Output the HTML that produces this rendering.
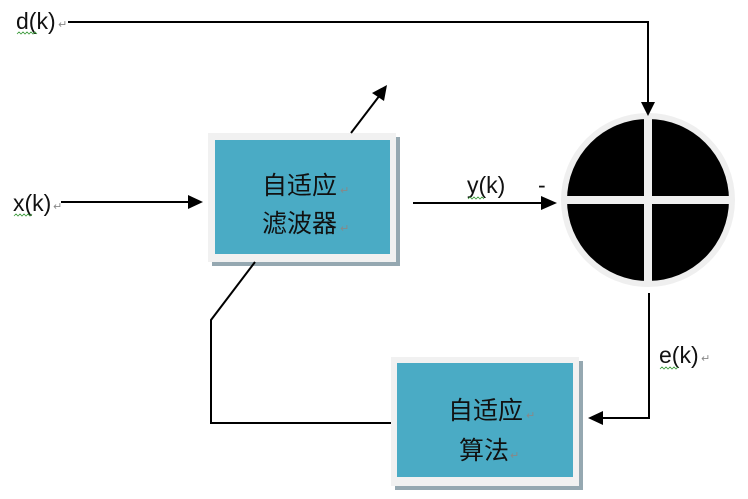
<!DOCTYPE html>
<html>
<head>
<meta charset="utf-8">
<style>
  html, body { margin: 0; padding: 0; background: #ffffff; }
  body { width: 748px; height: 499px; overflow: hidden; }
  svg { display: block; }
  .lat { font-family: "Liberation Sans", Arial, sans-serif; font-size: 23px; fill: #111; }
  .cjk { font-family: "Liberation Sans", "Noto Sans CJK SC", sans-serif; font-size: 25px; fill: #111; }
  .ret { font-family: "DejaVu Sans", "Liberation Sans", sans-serif; font-size: 11px; fill: #888; }
</style>
</head>
<body>
<svg width="748" height="499" viewBox="0 0 748 499" xmlns="http://www.w3.org/2000/svg">
  <!-- Box 1: adaptive filter -->
  <rect x="212" y="137" width="188" height="129" fill="#95a8b1"/>
  <rect x="208" y="133" width="188" height="129" fill="#f1f1f1"/>
  <rect x="215" y="140" width="175" height="114" fill="#4aabc5"/>
  <text class="cjk" x="262" y="194">自适应</text>
  <text class="ret" x="340" y="194">↵</text>
  <text class="cjk" x="262" y="232">滤波器</text>
  <text class="ret" x="340" y="232">↵</text>

  <!-- Box 2: adaptive algorithm -->
  <rect x="395" y="361" width="188" height="129" fill="#95a8b1"/>
  <rect x="391" y="357" width="188" height="129" fill="#f1f1f1"/>
  <rect x="397" y="363" width="176" height="114" fill="#4aabc5"/>
  <text class="cjk" x="448" y="419">自适应</text>
  <text class="ret" x="526" y="419">↵</text>
  <text class="cjk" x="459" y="459">算法</text>
  <text class="ret" x="510" y="459">↵</text>

  <!-- Summing junction -->
  <circle cx="648" cy="200" r="87" fill="#efefef"/>
  <circle cx="648" cy="200" r="81" fill="#000000"/>
  <rect x="644" y="115" width="8" height="170" fill="#efefef"/>
  <rect x="563" y="196" width="170" height="8" fill="#efefef"/>

  <!-- d(k) line -->
  <text class="lat" x="16" y="29">d(k)</text>
  <text class="ret" x="58" y="28">↵</text>
  <polyline points="17,34 19,32 21,34 23,32 25,34 27,32 29,34 31,32 33,34 35,32 37,34" fill="none" stroke="#3a9a3a" stroke-width="0.8"/>
  <polyline points="68,22 648,22 648,103" fill="none" stroke="#000" stroke-width="2"/>
  <polygon points="641,102 655,102 648,116" fill="#000"/>

  <!-- x(k) line -->
  <text class="lat" x="13" y="211">x(k)</text>
  <text class="ret" x="53" y="210">↵</text>
  <polyline points="14,216 16,214 18,216 20,214 22,216 24,214 26,216 28,214 30,216 32,214" fill="none" stroke="#3a9a3a" stroke-width="0.8"/>
  <line x1="61" y1="202" x2="190" y2="202" stroke="#000" stroke-width="2"/>
  <polygon points="188,195 188,209 203,202" fill="#000"/>

  <!-- diagonal adjust arrow -->
  <line x1="351" y1="133" x2="380" y2="95" stroke="#000" stroke-width="2"/>
  <polygon points="387,85 384,101 372,93" fill="#000"/>

  <!-- y(k) line -->
  <text class="lat" x="467" y="193">y(k)</text>
  <polyline points="468,199 470,197 472,199 474,197 476,199 478,197 480,199 482,197 484,199" fill="none" stroke="#3a9a3a" stroke-width="0.8"/>
  <text class="lat" x="538" y="193">-</text>
  <line x1="413" y1="203" x2="542" y2="203" stroke="#000" stroke-width="2"/>
  <polygon points="541,196 541,210 557,203" fill="#000"/>

  <!-- e(k) line -->
  <text class="lat" x="659" y="363">e(k)</text>
  <text class="ret" x="701" y="362">↵</text>
  <polyline points="660,369 662,367 664,369 666,367 668,369 670,367 672,369 674,367 676,369 678,367" fill="none" stroke="#3a9a3a" stroke-width="0.8"/>
  <polyline points="649,293 649,418 602,418" fill="none" stroke="#000" stroke-width="2"/>
  <polygon points="603,411 603,425 588,418" fill="#000"/>

  <!-- feedback line from algorithm to filter -->
  <polyline points="255,262 211,320 211,423 391,423" fill="none" stroke="#000" stroke-width="2"/>
</svg>
</body>
</html>
